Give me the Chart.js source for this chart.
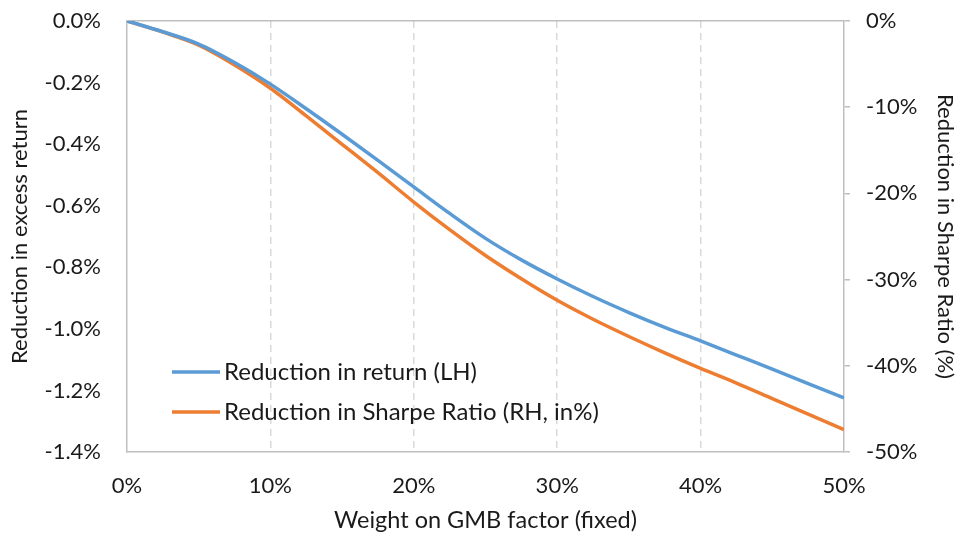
<!DOCTYPE html>
<html lang="en">
<head>
  <meta charset="UTF-8" />
  <title>Reduction in return and Sharpe Ratio</title>
  <style>
    html, body {
      margin: 0;
      padding: 0;
      background: #fff;
    }
    #wrap {
      width: 958px;
      height: 537px;
    }
  </style>
</head>
<body>
<div id="wrap">
  <canvas id="chart" width="958" height="537"></canvas>
</div>

<script src="https://cdn.jsdelivr.net/npm/chart.js"></script>
<script>
// weight on GMB factor, in %
const weights = [0, 2.5, 5, 7.5, 10, 12.5, 15, 17.5, 20, 22.5, 25, 27.5, 30, 32.5, 35, 37.5, 40, 42.5, 45, 47.5, 50];
// reduction in excess return, in % (left axis)
const returnCut = [0, -0.035, -0.075, -0.135, -0.205, -0.285, -0.368, -0.453, -0.539, -0.625, -0.706, -0.776, -0.838, -0.895, -0.947, -0.995, -1.039, -1.085, -1.131, -1.178, -1.224];
// reduction in Sharpe ratio, in % (right axis)
const sharpeCut = [0, -1.3, -2.8, -5.1, -7.8, -11.0, -14.3, -17.6, -21.0, -24.2, -27.2, -29.9, -32.4, -34.6, -36.6, -38.5, -40.3, -42.0, -43.8, -45.6, -47.4];

const xTicks = [0, 10, 20, 30, 40, 50];
const leftTicks = [0, -0.2, -0.4, -0.6, -0.8, -1.0, -1.2, -1.4];
const rightTicks = [0, -10, -20, -30, -40, -50];

const seriesNames = ['Reduction in return (LH)', 'Reduction in Sharpe Ratio (RH, in%)'];

const FONT = 'Lato, "Open Sans", sans-serif';
const TXT = '#1a1a1a';
const AXIS = '#bfbfbf';

const toPoints = (vals) => weights.map((w, i) => ({ x: w, y: vals[i] }));

// pin the y axes to a fixed width and drop the label overhang padding
const fixY = (w) => (s) => {
  s.width = w;
  s.paddingTop = 0;
  s.paddingBottom = 0;
};

// legend sits inside the plot, lower left, like the original
const insideLegend = {
  id: 'insideLegend',
  afterDraw(chart) {
    const { ctx, chartArea } = chart;
    const x0 = chartArea.left + 45;
    const rows = [chartArea.bottom - 80, chartArea.bottom - 40];
    ctx.save();
    ctx.font = '24px ' + FONT;
    ctx.textBaseline = 'middle';
    chart.data.datasets.forEach((ds, i) => {
      ctx.strokeStyle = ds.borderColor;
      ctx.lineWidth = 3.5;
      ctx.beginPath();
      ctx.moveTo(x0, rows[i]);
      ctx.lineTo(x0 + 48, rows[i]);
      ctx.stroke();
      ctx.fillStyle = TXT;
      ctx.fillText(ds.label, x0 + 52, rows[i]);
    });
    ctx.restore();
  }
};

new Chart(document.getElementById('chart'), {
  type: 'line',
  data: {
    datasets: [
      {
        label: seriesNames[0],
        data: toPoints(returnCut),
        yAxisID: 'y',
        borderColor: '#5b9bd5',
        borderWidth: 3.5,
        pointRadius: 0,
        cubicInterpolationMode: 'monotone'
      },
      {
        label: seriesNames[1],
        data: toPoints(sharpeCut),
        yAxisID: 'y2',
        borderColor: '#ed7d31',
        borderWidth: 3.5,
        pointRadius: 0,
        cubicInterpolationMode: 'monotone'
      }
    ]
  },
  options: {
    responsive: false,
    animation: false,
    layout: { padding: { top: 21, right: 0, left: 0, bottom: 0 } },
    plugins: {
      legend: { display: false },
      tooltip: { enabled: false }
    },
    scales: {
      x: {
        type: 'linear',
        min: 0,
        max: 50,
        afterBuildTicks: (s) => { s.ticks = xTicks.map(v => ({ value: v })); },
        afterFit: (s) => { s.height = 85; },
        border: { display: true, color: AXIS, width: 1.5, dash: [7, 5] },
        grid: {
          drawTicks: false,
          color: (c) => (c.tick && (c.tick.value === 0 || c.tick.value === 50)) ? 'transparent' : '#d9d9d9',
          lineWidth: 1.5
        },
        ticks: {
          padding: 21,
          color: TXT,
          font: { family: FONT, size: 22 },
          callback: (v) => v + '%'
        },
        title: {
          display: true,
          text: 'Weight on GMB factor (fixed)',
          color: TXT,
          font: { family: FONT, size: 23.5 },
          padding: { top: 0, bottom: 2 }
        }
      },
      y: {
        position: 'left',
        min: -1.4,
        max: 0,
        afterBuildTicks: (s) => { s.ticks = leftTicks.map(v => ({ value: v })); },
        afterFit: fixY(127),
        border: { display: true, color: AXIS, width: 1.5 },
        grid: {
          drawTicks: false,
          color: (c) => (c.tick && c.tick.value === 0) ? AXIS : 'transparent',
          lineWidth: 1.5
        },
        ticks: {
          padding: 26,
          color: TXT,
          font: { family: FONT, size: 22 },
          callback: (v) => v.toFixed(1) + '%'
        },
        title: {
          display: true,
          text: 'Reduction in excess return',
          color: TXT,
          font: { family: FONT, size: 22 },
          padding: { top: 7, bottom: 0 }
        }
      },
      y2: {
        position: 'right',
        min: -50,
        max: 0,
        afterBuildTicks: (s) => { s.ticks = rightTicks.map(v => ({ value: v })); },
        afterFit: fixY(114),
        border: { display: true, color: AXIS, width: 1.5 },
        grid: {
          drawOnChartArea: false,
          drawTicks: true,
          tickLength: 6,
          color: AXIS,
          lineWidth: 1.5
        },
        ticks: {
          padding: 16,
          color: TXT,
          font: { family: FONT, size: 22 },
          callback: (v) => v + '%'
        },
        title: {
          display: true,
          text: 'Reduction in Sharpe Ratio (%)',
          color: TXT,
          font: { family: FONT, size: 22 },
          padding: { top: 0, bottom: 7 }
        }
      }
    }
  },
  plugins: [insideLegend]
});
</script>
</body>
</html>
